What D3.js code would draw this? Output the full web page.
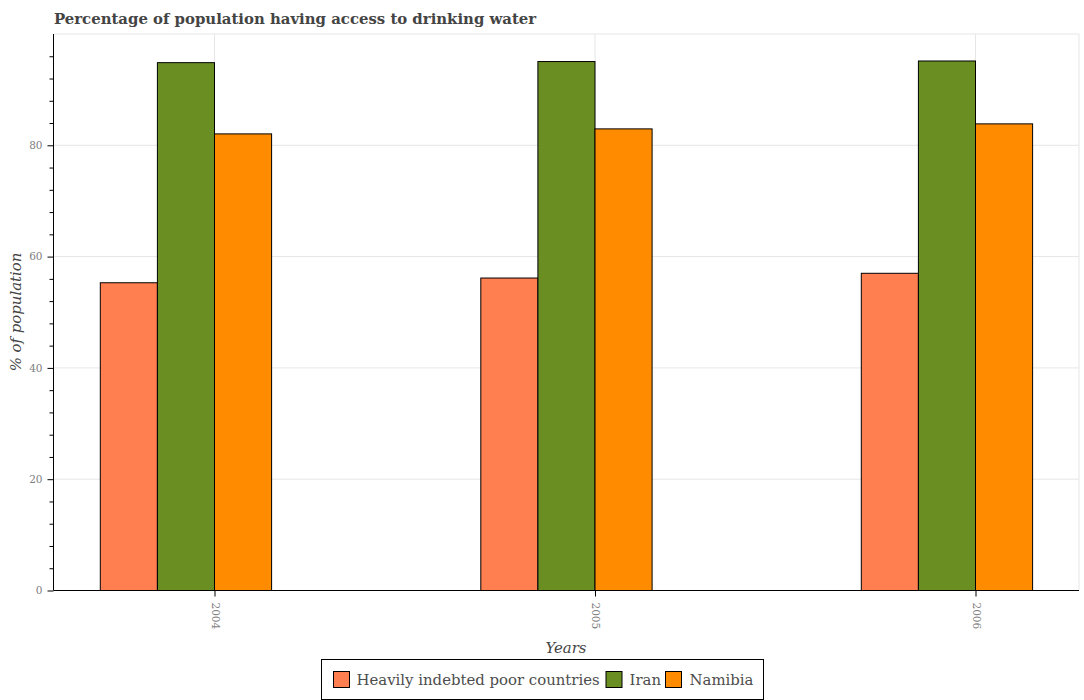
<!DOCTYPE html>
<html><head><meta charset="utf-8">
<script src="https://cdnjs.cloudflare.com/ajax/libs/d3/7.8.5/d3.min.js"></script>
<style>html,body{margin:0;padding:0;background:#fff}text{font-family:"DejaVu Serif",serif}</style>
</head><body><div id="c"></div>
<script>
const years=["2004","2005","2006"];
const seriesNames=["Heavily indebted poor countries","Iran","Namibia"];
const hipc=[55.3,56.15,57.0];
const iran=[94.85,95.05,95.15];
const namibia=[82.05,82.95,83.85];
const colors=["#ff7f50","#6b8e23","#ff8c00"];
const majorTicks=[0,20,40,60,80];
const minorTicks=[4,8,12,16,24,28,32,36,44,48,52,56,64,68,72,76,84,88,92,96];
const gridTicks=[20,40,60,80,100];
const W=1084,H=700,L=53.5,R=1079,T=34,B=590.5,bw=57.1;
const svg=d3.select("#c").append("svg").attr("width",W).attr("height",H).style("display","block");
const x=d3.scalePoint().domain(years).range([214.5,975.5]);
const y=d3.scaleLinear().domain([0,100]).range([B,T]);
svg.append("text").attr("x",54).attr("y",24).attr("font-size",14.9).attr("font-weight","bold").attr("fill","#444").text("Percentage of population having access to drinking water");
const g=svg.append("g");
g.selectAll(".gy").data(gridTicks).join("line").attr("class","gy").attr("x1",L).attr("x2",R).attr("y1",d=>y(d)).attr("y2",d=>y(d)).attr("stroke","#e6e6e6");
g.selectAll(".gx").data(years).join("line").attr("class","gx").attr("y1",T).attr("y2",B).attr("x1",d=>x(d)).attr("x2",d=>x(d)).attr("stroke","#e6e6e6");
g.append("line").attr("x1",R).attr("x2",R).attr("y1",T).attr("y2",B).attr("stroke","#e6e6e6");
[hipc,iran,namibia].forEach((s,i)=>{
 g.selectAll("rect.s"+i).data(s).join("rect").attr("class","s"+i)
  .attr("x",(d,j)=>x(years[j])+(i-2)*bw)
  .attr("width",bw).attr("y",d=>y(d)).attr("height",d=>y(0)-y(d))
  .attr("fill",colors[i]).attr("stroke","#000").attr("stroke-width",1);
});
const ax=svg.append("g").attr("transform",`translate(0,${B})`).call(d3.axisBottom(x).tickSize(6).tickPadding(0));
ax.select(".domain").attr("d",`M${L},0H${R}`).attr("stroke","#000");
ax.selectAll("text").attr("font-family","DejaVu Sans").attr("font-size",10.5).attr("fill","#808080")
  .attr("text-anchor","start").attr("dy",0).attr("y",0)
  .attr("transform","translate(-3.5,12) rotate(90)");
const ayMinor=svg.append("g").attr("transform",`translate(${L},0)`).call(d3.axisLeft(y).tickValues(minorTicks).tickSize(4).tickFormat(""));
ayMinor.select(".domain").remove();
const ay=svg.append("g").attr("transform",`translate(${L},0)`).call(d3.axisLeft(y).tickValues(majorTicks).tickSize(6).tickPadding(5));
ay.select(".domain").attr("d",`M0,${T}V${B}`).attr("stroke","#000");
ay.selectAll("text").attr("font-family","DejaVu Sans").attr("font-size",10.5).attr("fill","#808080");
svg.append("text").attr("x",566).attr("y",653).attr("text-anchor","middle").attr("font-size",14.9).attr("font-style","italic").attr("fill","#444").text("Years");
svg.append("text").attr("transform",`translate(21,312) rotate(-90)`).attr("text-anchor","middle").attr("font-size",14.9).attr("font-style","italic").attr("fill","#444").text("% of population");
svg.append("rect").attr("x",321.5).attr("y",659.5).attr("width",442).attr("height",40).attr("fill","#fff").attr("stroke","#000").attr("stroke-width",1);
const lx=[333.5,606,665.5],tx=[356.5,629.5,689.5];
seriesNames.forEach((n,i)=>{
 svg.append("rect").attr("x",lx[i]).attr("y",671.5).attr("width",16).attr("height",16).attr("fill",colors[i]).attr("stroke","#000").attr("stroke-width",1);
 svg.append("text").attr("x",tx[i]).attr("y",685).attr("font-size",14.9).attr("fill","#4d4d4d").text(n);
});
</script></body></html>
